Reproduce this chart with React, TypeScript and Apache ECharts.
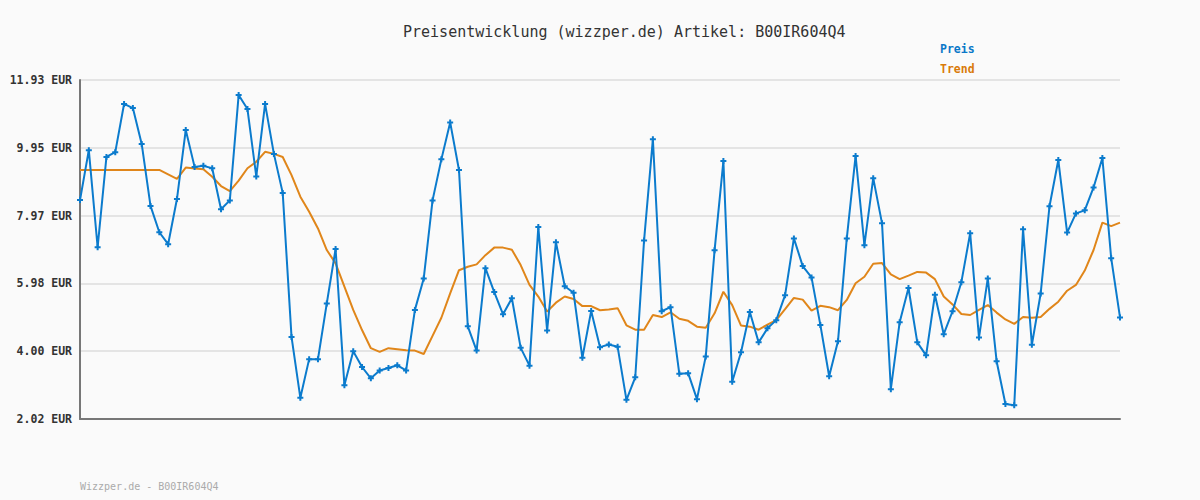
import React, { useEffect, useRef } from "react";
import * as echarts from "echarts";

const TITLE = "Preisentwicklung (wizzper.de) Artikel: B00IR604Q4";
const FOOTER = "Wizzper.de - B00IR604Q4";
const Y_MIN = 2.02;
const Y_MAX = 11.93;
const Y_STEP = 1.982;

const preis = [
  8.42, 9.88, 7.04, 9.68, 9.82, 11.23, 11.11, 10.06, 8.25, 7.48,
  7.13, 8.45, 10.47, 9.39, 9.42, 9.35, 8.15, 8.41, 11.49, 11.08,
  9.11, 11.23, 9.77, 8.63, 4.42, 2.64, 3.77, 3.77, 5.40, 6.99,
  3.01, 4.00, 3.54, 3.21, 3.44, 3.51, 3.59, 3.44, 5.21, 6.13,
  8.41, 9.61, 10.69, 9.30, 4.73, 4.02, 6.43, 5.73, 5.08, 5.55,
  4.10, 3.58, 7.63, 4.61, 7.19, 5.90, 5.71, 3.81, 5.18, 4.12,
  4.20, 4.13, 2.58, 3.24, 7.24, 10.20, 5.17, 5.29, 3.34, 3.36,
  2.60, 3.85, 6.95, 9.56, 3.11, 3.97, 5.15, 4.26, 4.67, 4.91,
  5.64, 7.30, 6.49, 6.16, 4.77, 3.27, 4.29, 7.30, 9.71, 7.10,
  9.06, 7.74, 2.89, 4.85, 5.85, 4.26, 3.88, 5.65, 4.50, 5.17,
  6.02, 7.45, 4.40, 6.13, 3.71, 2.46, 2.42, 7.57, 4.19, 5.69,
  8.24, 9.59, 7.47, 8.03, 8.12, 8.79, 9.65, 6.72, 4.99,
];

const trend = [
  9.30, 9.30, 9.30, 9.30, 9.30, 9.30, 9.30, 9.30, 9.30, 9.30,
  9.17, 9.04, 9.37, 9.34, 9.32, 9.10, 8.83, 8.68, 8.99, 9.35,
  9.54, 9.83, 9.77, 9.68, 9.15, 8.52, 8.08, 7.59, 6.96, 6.57,
  5.89, 5.21, 4.62, 4.09, 3.98, 4.09, 4.06, 4.03, 4.02, 3.92,
  4.45, 4.98, 5.69, 6.37, 6.47, 6.54, 6.81, 7.03, 7.03, 6.97,
  6.52, 5.94, 5.60, 5.16, 5.42, 5.60, 5.53, 5.32, 5.32, 5.20,
  5.22, 5.26, 4.76, 4.63, 4.63, 5.06, 5.00, 5.14, 4.95, 4.89,
  4.72, 4.69, 5.11, 5.74, 5.35, 4.75, 4.72, 4.63, 4.78, 4.91,
  5.23, 5.56, 5.51, 5.19, 5.33, 5.29, 5.20, 5.50, 5.99, 6.18,
  6.56, 6.58, 6.25, 6.11, 6.21, 6.32, 6.30, 6.11, 5.60, 5.37,
  5.09, 5.06, 5.21, 5.35, 5.13, 4.93, 4.80, 5.00, 4.98, 5.00,
  5.24, 5.45, 5.77, 5.94, 6.36, 6.96, 7.76, 7.66, 7.76,
];

const categories = preis.map((_, i) => String(i + 1));

const BLUE = "#0b7bcd";
const ORANGE = "#e0861a";
const MONO = "'DejaVu Sans Mono', 'Liberation Mono', monospace";

export default function App() {
  const ref = useRef<HTMLDivElement>(null);
  useEffect(() => {
    document.body.style.margin = "0";
    const chart = echarts.init(ref.current!, undefined, { renderer: "svg" });
    chart.setOption({
      animation: false,
      backgroundColor: "#fafafa",
      title: {
        text: TITLE,
        left: 398,
        top: 19,
        textStyle: { fontFamily: MONO, fontSize: 15, fontWeight: "normal", color: "#333" },
      },
      legend: {
        orient: "vertical",
        left: 930,
        top: 38,
        itemGap: 8,
        itemWidth: 0,
        itemHeight: 0,
        selectedMode: false,
        data: [
          { name: "Preis", icon: "rect", textStyle: { color: "#0a78c8" } },
          { name: "Trend", icon: "rect", textStyle: { color: "#d97a0a" } },
        ],
        textStyle: { fontFamily: MONO, fontSize: 11.5, fontWeight: "bold" },
      },
      graphic: [
        {
          type: "text",
          left: 80,
          top: 481,
          style: { text: FOOTER, fontFamily: MONO, fontSize: 10, fill: "#aaa" },
        },
      ],
      grid: { left: 80, right: 80, top: 80, bottom: 81, containLabel: false },
      xAxis: {
        type: "category",
        data: categories,
        boundaryGap: false,
        axisLine: { lineStyle: { color: "#777", width: 2 } },
        axisTick: { show: false },
        axisLabel: { show: false },
        splitLine: { show: false },
      },
      yAxis: {
        type: "value",
        min: Y_MIN,
        max: Y_MAX,
        interval: Y_STEP,
        axisLine: { show: true, lineStyle: { color: "#777", width: 2 } },
        axisTick: { show: false },
        axisLabel: {
          margin: 8,
          fontFamily: MONO,
          fontSize: 11.5,
          fontWeight: "bold",
          color: "#333",
          formatter: (v: number) => v.toFixed(2) + " EUR",
        },
        splitLine: { show: true, lineStyle: { color: "#e4e4e4", width: 2 } },
      },
      series: [
        {
          name: "Preis",
          type: "line",
          data: preis,
          color: BLUE,
          lineStyle: { color: BLUE, width: 2 },
          symbol: "path://M2,0H4V2H6V4H4V6H2V4H0V2H2Z",
          symbolSize: 6,
          showSymbol: true,
          showAllSymbol: true,
          itemStyle: { color: BLUE },
          z: 3,
        },
        {
          name: "Trend",
          type: "line",
          data: trend,
          color: ORANGE,
          lineStyle: { color: ORANGE, width: 2 },
          showSymbol: false,
          symbol: "none",
          z: 2,
        },
      ],
    });
    return () => chart.dispose();
  }, []);
  return <div ref={ref} style={{ width: 1200, height: 500 }} />;
}
